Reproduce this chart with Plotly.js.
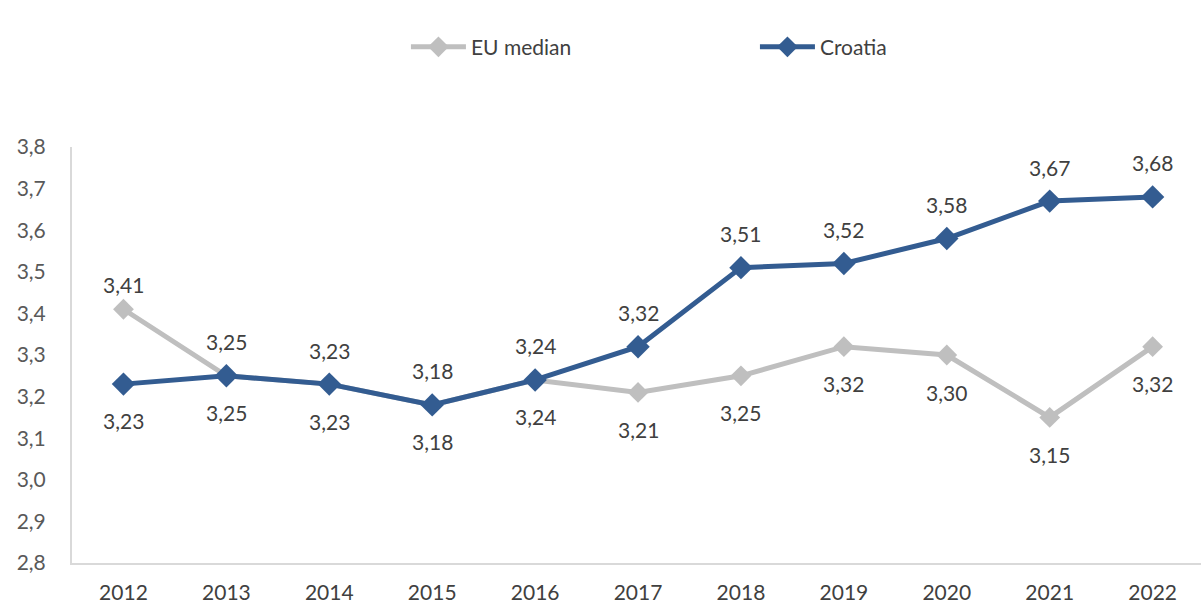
<!DOCTYPE html>
<html><head><meta charset="utf-8">
<script src="https://cdn.plot.ly/plotly-3.0.1.min.js"></script>
<style>html,body{margin:0;padding:0;background:#fff}#c{width:1201px;height:605px}</style>
</head><body><div id="c"></div>
<script>
const years = ['2012','2013','2014','2015','2016','2017','2018','2019','2020','2021','2022'];
const euMedian = [3.41,3.25,3.23,3.18,3.24,3.21,3.25,3.32,3.30,3.15,3.32];
const croatia = [3.23,3.25,3.23,3.18,3.24,3.32,3.51,3.52,3.58,3.67,3.68];
const yTicks = [2.8,2.9,3.0,3.1,3.2,3.3,3.4,3.5,3.6,3.7,3.8];

const fmt = v => v.toFixed(2).replace('.', ',');
const FONT = 'Lato, Open Sans, sans-serif';
const traces = [
  {x: years, y: euMedian, name: 'EU median', mode: 'lines+markers', type: 'scatter',
   line: {color: '#BFBFBF', width: 5}, marker: {symbol: 'diamond', size: 16, color: '#BFBFBF'}},
  {x: years, y: croatia, name: 'Croatia', mode: 'lines+markers', type: 'scatter',
   line: {color: '#335C91', width: 5}, marker: {symbol: 'diamond', size: 18, color: '#335C91'}}
];
const ann = [];
years.forEach((yr, i) => {
  const euAbove = i === 0;
  ann.push({x: i, y: euMedian[i], xref: 'x', yref: 'y', text: fmt(euMedian[i]), showarrow: false,
    yshift: euAbove ? 25 : -37, font: {family: FONT, size: 21, color: '#404040'}});
  const crAbove = i !== 0;
  ann.push({x: i, y: croatia[i], xref: 'x', yref: 'y', text: fmt(croatia[i]), showarrow: false,
    yshift: crAbove ? 34 : -36, font: {family: FONT, size: 21, color: '#404040'}});
});
const layout = {
  width: 1201, height: 605,
  margin: {l: 72, r: 0, t: 147, b: 42},
  paper_bgcolor: '#fff', plot_bgcolor: '#fff',
  separators: ', ',
  showlegend: true,
  legend: {orientation: 'h', x: 0.338, xref: 'container', y: 0.922, yref: 'container', yanchor: 'middle',
    xanchor: 'left', entrywidth: 279, entrywidthmode: 'pixels', itemwidth: 55,
    font: {family: FONT, size: 21, color: '#404040'}},
  xaxis: {type: 'category', range: [-0.5, 10.47], showgrid: false, zeroline: false,
    showline: true, linecolor: '#D9D9D9', linewidth: 2, ticks: '', ticklabelstandoff: 10,
    tickfont: {family: FONT, size: 21, color: '#404040'}, fixedrange: true},
  yaxis: {range: [2.8, 3.8], tickvals: yTicks, tickformat: '.1f', showgrid: false, zeroline: false,
    showline: true, linecolor: '#D9D9D9', linewidth: 2, ticks: '', ticklabelstandoff: 20,
    tickfont: {family: FONT, size: 21, color: '#595959'}, fixedrange: true},
  annotations: ann
};
Plotly.newPlot('c', traces, layout, {displayModeBar: false, staticPlot: true});
</script></body></html>
